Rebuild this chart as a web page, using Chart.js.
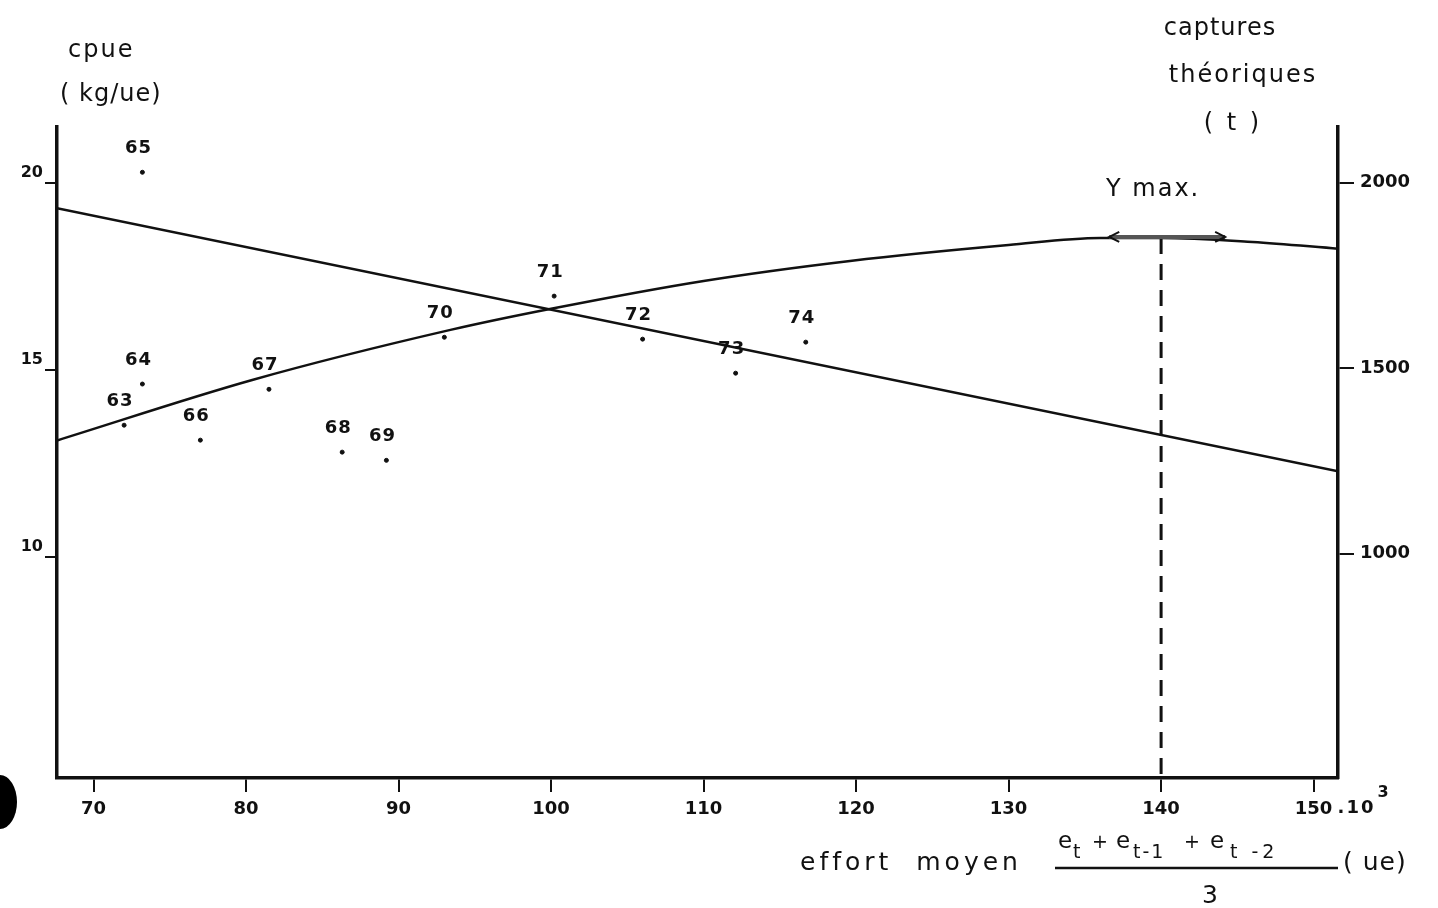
<!DOCTYPE html>
<html>
<head>
<meta charset="utf-8">
<script src="https://cdn.jsdelivr.net/npm/chart.js@4.4.0/dist/chart.umd.min.js"></script>
<style>
  html, body { margin: 0; padding: 0; background: #fff; }
  canvas { display: block; }
</style>
</head>
<body>
<canvas id="chart" width="1438" height="908"></canvas>
<script>
// observed years (labels next to the dots)
const years = ['63', '64', '65', '66', '67', '68', '69', '70', '71', '72', '73', '74'];
const effort = [72.0, 73.2, 73.2, 77.0, 81.5, 86.3, 89.2, 93.0, 100.2, 106.0, 112.1, 116.7];
const cpue = [13.53, 14.63, 20.29, 13.13, 14.49, 12.81, 12.59, 15.88, 16.98, 15.83, 14.92, 15.75];

// fitted cpue line (left axis)
const lineEffort = [67.6, 151.6];
const lineCpue = [19.33, 12.3];

// theoretical catch curve (right axis)
const curveEffort = [67.6, 80.4, 93.4, 100, 110, 119.6, 130, 136, 140, 146, 151.6];
const curveCatch = [1305, 1468, 1603, 1660, 1735, 1789, 1832, 1851, 1851, 1840, 1822];

const xTicks = [70, 80, 90, 100, 110, 120, 130, 140, 150];
const leftTicks = [10, 15, 20];
const rightTicks = [1000, 1500, 2000];
const yMaxEffort = 140;
const yMaxCatch = 1851;

const ink = '#111';
const tickFont = { family: 'DejaVu Sans', size: 18, weight: 'bold' };

const zip = (xs, ys) => xs.map((x, i) => ({ x: x, y: ys[i] }));

function txt(ctx, s, x, y, font, align, spacing) {
    ctx.save();
    ctx.font = font;
    ctx.fillStyle = ink;
    ctx.textAlign = align || 'left';
    ctx.textBaseline = 'alphabetic';
    ctx.letterSpacing = (spacing || 0) + 'px';
    ctx.fillText(s, x, y);
    ctx.restore();
}

const decor = {
    id: 'decor',
    afterDatasetsDraw(chart) {
        const ctx = chart.ctx;
        const xs = chart.scales.x, yl = chart.scales.yL, yr = chart.scales.yR;

        // year labels over the dots
        years.forEach((yr0, i) => {
            txt(ctx, yr0, xs.getPixelForValue(effort[i]) - 4, yl.getPixelForValue(cpue[i]) - 19,
                'bold 18px "DejaVu Sans"', 'center', 1);
        });

        // Y max dashed vertical + double arrow
        const px = xs.getPixelForValue(yMaxEffort);
        const py = yr.getPixelForValue(yMaxCatch);
        ctx.save();
        ctx.strokeStyle = ink;
        ctx.lineWidth = 3;
        ctx.setLineDash([16, 10]);
        ctx.beginPath();
        ctx.moveTo(px, py);
        ctx.lineTo(px, chart.chartArea.bottom);
        ctx.stroke();
        ctx.setLineDash([]);
        const a0 = xs.getPixelForValue(136.6), a1 = xs.getPixelForValue(144.2);
        ctx.strokeStyle = '#555';
        ctx.lineWidth = 4;
        ctx.beginPath();
        ctx.moveTo(a0, py - 1);
        ctx.lineTo(a1, py - 1);
        ctx.stroke();
        ctx.lineWidth = 2;
        ctx.strokeStyle = ink;
        ctx.beginPath();
        ctx.moveTo(a0 + 10, py - 6); ctx.lineTo(a0, py - 1); ctx.lineTo(a0 + 10, py + 4);
        ctx.moveTo(a1 - 10, py - 6); ctx.lineTo(a1, py - 1); ctx.lineTo(a1 - 10, py + 4);
        ctx.stroke();
        ctx.restore();
    },
    afterDraw(chart) {
        const ctx = chart.ctx;
        const xs = chart.scales.x;
        const f = '24px "DejaVu Sans"';

        txt(ctx, 'Y max.', 1106, 196, f, 'left', 2);

        // left axis title
        txt(ctx, 'cpue', 68, 57, f, 'left', 2);
        txt(ctx, '( kg/ue)', 60, 101, f, 'left', 1);
        // right axis title
        txt(ctx, 'captures', 1220, 35, f, 'center', 1);
        txt(ctx, 'théoriques', 1243, 82, f, 'center', 2);
        txt(ctx, '( t )', 1233, 130, f, 'center', 3);

        // ".10³" after the 150 tick
        const p150 = xs.getPixelForValue(150);
        txt(ctx, '.10', p150 + 24, 813, 'bold 18px "DejaVu Sans"', 'left', 2);
        txt(ctx, '3', p150 + 64, 797, 'bold 16px "DejaVu Sans"', 'left', 0);

        // x axis title with the fraction
        txt(ctx, 'effort  moyen', 800, 870, '25px "DejaVu Sans"', 'left', 4);
        const nf = '23px "DejaVu Sans"', sf = '19px "DejaVu Sans"';
        txt(ctx, 'e', 1058, 848, nf);
        txt(ctx, 't', 1073, 858, sf);
        txt(ctx, '+', 1092, 848, sf);
        txt(ctx, 'e', 1116, 848, nf);
        txt(ctx, 't-1', 1133, 858, sf, 'left', 2);
        txt(ctx, '+', 1184, 848, sf);
        txt(ctx, 'e', 1210, 848, nf);
        txt(ctx, 't -2', 1230, 858, sf, 'left', 4);
        ctx.save();
        ctx.strokeStyle = ink;
        ctx.lineWidth = 2.5;
        ctx.beginPath();
        ctx.moveTo(1055, 868);
        ctx.lineTo(1338, 868);
        ctx.stroke();
        ctx.restore();
        txt(ctx, '3', 1210, 903, '25px "DejaVu Sans"', 'center');
        txt(ctx, '( ue)', 1343, 870, '25px "DejaVu Sans"', 'left', 1);

        // scanning blot at the left edge
        ctx.save();
        ctx.fillStyle = '#000';
        ctx.beginPath();
        ctx.ellipse(0, 802, 17, 27, 0, 0, Math.PI * 2);
        ctx.fill();
        ctx.restore();
    }
};

const axisBorder = { display: true, color: ink, width: 3.5 };

new Chart(document.getElementById('chart'), {
    type: 'scatter',
    data: {
        datasets: [
            {
                label: 'cpue',
                data: zip(effort, cpue),
                yAxisID: 'yL',
                backgroundColor: ink,
                borderColor: ink,
                pointRadius: 2,
                showLine: false
            },
            {
                label: 'droite cpue',
                data: zip(lineEffort, lineCpue),
                yAxisID: 'yL',
                borderColor: ink,
                borderWidth: 2.5,
                pointRadius: 0,
                showLine: true
            },
            {
                label: 'captures théoriques',
                data: zip(curveEffort, curveCatch),
                yAxisID: 'yR',
                borderColor: ink,
                borderWidth: 2.5,
                pointRadius: 0,
                showLine: true,
                cubicInterpolationMode: 'monotone'
            }
        ]
    },
    options: {
        responsive: false,
        animation: false,
        devicePixelRatio: 1,
        layout: { padding: { top: 127, left: 0, right: 0, bottom: 0 } },
        plugins: {
            legend: { display: false },
            tooltip: { enabled: false }
        },
        scales: {
            x: {
                type: 'linear',
                min: 67.6,
                max: 151.6,
                afterFit: s => { s.height = 130; },
                afterBuildTicks: s => { s.ticks = xTicks.map(v => ({ value: v })); },
                border: axisBorder,
                grid: { drawOnChartArea: false, drawTicks: true, tickLength: 14, color: ink, lineWidth: 2 },
                ticks: { color: ink, font: tickFont, padding: 7, includeBounds: false, callback: v => String(v) }
            },
            yL: {
                type: 'linear',
                position: 'left',
                min: 4.1,
                max: 21.5,
                afterFit: s => { s.width = 57; },
                afterBuildTicks: s => { s.ticks = leftTicks.map(v => ({ value: v })); },
                border: axisBorder,
                grid: { drawOnChartArea: false, drawTicks: true, tickLength: 12, color: ink, lineWidth: 2 },
                ticks: { color: ink, font: { family: 'DejaVu Sans', size: 16, weight: 'bold' }, padding: 2, labelOffset: -10, callback: v => String(v) }
            },
            yR: {
                type: 'linear',
                position: 'right',
                min: 395,
                max: 2150,
                afterFit: s => { s.width = 100; },
                afterBuildTicks: s => { s.ticks = rightTicks.map(v => ({ value: v })); },
                border: axisBorder,
                grid: { drawOnChartArea: false, drawTicks: true, tickLength: 16, color: ink, lineWidth: 2 },
                ticks: { color: ink, font: { family: 'DejaVu Sans', size: 18, weight: 'bold' }, padding: 6, callback: v => String(v) }
            }
        }
    },
    plugins: [decor]
});
</script>
</body>
</html>
